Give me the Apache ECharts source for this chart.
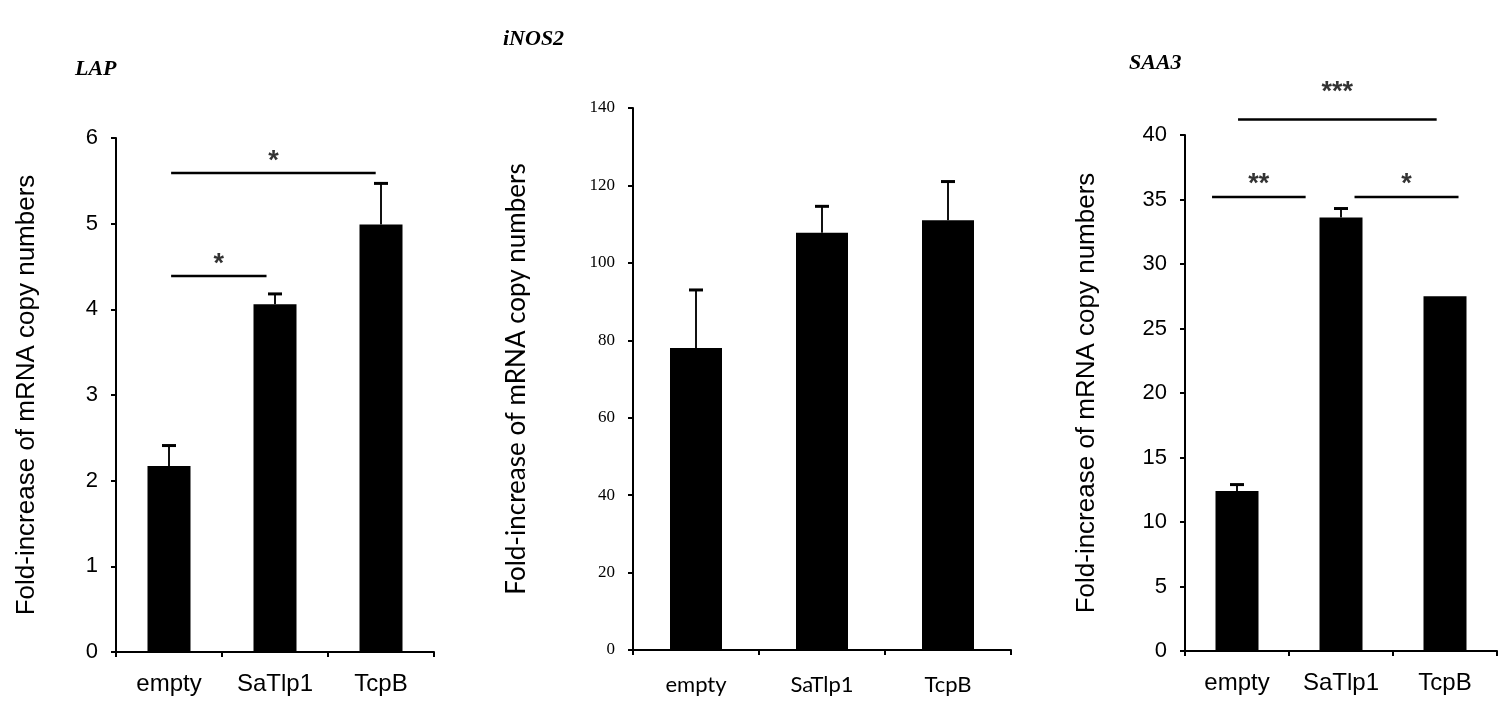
<!DOCTYPE html>
<html>
<head>
<meta charset="utf-8">
<script src="https://cdn.jsdelivr.net/npm/echarts@6/dist/echarts.min.js"></script>
<style>
  html, body { margin: 0; padding: 0; background: #fff; }
  #chart { width: 1500px; height: 709px; }
</style>
</head>
<body>
<div id="chart"></div>
<script>
// data
var categories = ['empty', 'SaTlp1', 'TcpB'];

var lapMean = [2.17, 4.06, 4.99];
var lapErr = [0.24, 0.12, 0.48];
var inosMean = [78, 107.8, 111];
var inosErr = [15, 6.8, 10];
var saaMean = [12.4, 33.6, 27.5];
var saaErr = [0.5, 0.7, 0];

var panelTitles = ['LAP', 'iNOS2', 'SAA3'];
var yName = 'Fold-increase of mRNA copy numbers';

// significance brackets: [from, to, y] on a -0.5..2.5 scale, stars: [x, y, text]
var lapBrackets = [[0.02, 0.92, 4.39], [0.02, 1.95, 5.59]];
var lapStars = [[0.47, 4.6, '*'], [0.985, 5.81, '*']];
var saaBrackets = [[-0.24, 0.66, 35.2], [1.13, 2.13, 35.2], [0.01, 1.92, 41.2]];
var saaStars = [[0.21, 36.7, '**'], [1.63, 36.7, '*'], [0.965, 43.8, '***']];

var sans = 'Liberation Sans';
var serif = 'Liberation Serif';
var calib = 'Lato';

var chart = echarts.init(document.getElementById('chart'));

function errData(mean, err) {
    return categories.map(function (c, i) { return [i, mean[i], err[i]]; });
}

function errSeries(idx, mean, err) {
    return {
        type: 'custom',
        xAxisIndex: idx, yAxisIndex: idx,
        data: errData(mean, err),
        z: 5,
        renderItem: function (params, api) {
            var e = api.value(2);
            if (!e) return;
            var i = api.value(0), m = api.value(1);
            var p0 = api.coord([i, m]);
            var p1 = api.coord([i, m + e]);
            var w = 7;
            return {
                type: 'group',
                children: [
                    { type: 'line', shape: { x1: p0[0], y1: p0[1], x2: p1[0], y2: p1[1] },
                      style: { stroke: '#111', lineWidth: 2 } },
                    { type: 'line', shape: { x1: p1[0] - w, y1: p1[1], x2: p1[0] + w, y2: p1[1] },
                      style: { stroke: '#000', lineWidth: 3 } }
                ]
            };
        }
    };
}

function bracketSeries(axisIdx, yIdx, list) {
    return list.map(function (b) {
        return {
            type: 'line',
            xAxisIndex: axisIdx, yAxisIndex: yIdx,
            data: [[b[0], b[2]], [b[1], b[2]]],
            symbol: 'none',
            clip: false,
            silent: true,
            lineStyle: { color: '#000', width: 2.5 }
        };
    });
}

function starSeries(axisIdx, yIdx, list) {
    return {
        type: 'scatter',
        xAxisIndex: axisIdx, yAxisIndex: yIdx,
        data: list,
        symbolSize: 0,
        clip: false,
        silent: true,
        label: {
            show: true, position: 'inside', color: '#000',
            fontFamily: sans, fontSize: 27, fontWeight: 'bold', offset: [0, 7],
            formatter: function (p) { return p.data[2]; }
        }
    };
}

function catAxis(idx, font, size, margin) {
    return {
        type: 'category', gridIndex: idx, data: categories,
        axisLine: { lineStyle: { color: '#000', width: 2 } },
        axisTick: { show: true, length: 5, lineStyle: { color: '#000', width: 2 } },
        axisLabel: { color: '#000', fontFamily: font, fontSize: size, margin: margin }
    };
}

function annoAxis(idx) {
    return { type: 'value', gridIndex: idx, min: -0.5, max: 2.5, show: false };
}

function valAxis(idx, max, step, font, size, nameFont, nameSize, gap) {
    return {
        type: 'value', gridIndex: idx, min: 0, max: max, interval: step,
        name: yName, nameLocation: 'middle', nameGap: gap, nameRotate: 90,
        nameTextStyle: { color: '#000', fontFamily: nameFont, fontSize: nameSize },
        axisLine: { show: true, onZero: false, lineStyle: { color: '#000', width: 2 } },
        axisTick: { show: true, length: 5, lineStyle: { color: '#000', width: 2 } },
        splitLine: { show: false },
        axisLabel: { color: '#000', fontFamily: font, fontSize: size, margin: 18 }
    };
}

function barSeries(idx, mean, w) {
    return {
        type: 'bar', xAxisIndex: idx, yAxisIndex: idx,
        data: mean, barWidth: w,
        itemStyle: { color: '#000' }
    };
}

var titleStyle = { color: '#000', fontFamily: serif, fontSize: 22, fontWeight: 'bold', fontStyle: 'italic' };

var option = {
    backgroundColor: '#fff',
    animation: false,
    title: [
        { text: panelTitles[0], left: 75, top: 58, textStyle: titleStyle, padding: 0 },
        { text: panelTitles[1], left: 503, top: 28, textStyle: titleStyle, padding: 0 },
        { text: panelTitles[2], left: 1129, top: 52, textStyle: titleStyle, padding: 0 }
    ],
    grid: [
        { left: 116, top: 138, width: 318, height: 514 },
        { left: 633, top: 108, width: 378, height: 542 },
        { left: 1185, top: 135, width: 312, height: 516 }
    ],
    xAxis: [
        catAxis(0, sans, 24, 20),
        catAxis(1, calib, 22, 24),
        catAxis(2, sans, 24, 20),
        annoAxis(0),
        annoAxis(2)
    ],
    yAxis: [
        valAxis(0, 6, 1, sans, 22, sans, 26, 76),
        valAxis(1, 140, 20, serif, 17, calib, 26, 103),
        valAxis(2, 40, 5, sans, 22, sans, 26, 85)
    ],
    series: [
        barSeries(0, lapMean, 43),
        barSeries(1, inosMean, 52),
        barSeries(2, saaMean, 43),
        errSeries(0, lapMean, lapErr),
        errSeries(1, inosMean, inosErr),
        errSeries(2, saaMean, saaErr),
        starSeries(3, 0, lapStars),
        starSeries(4, 2, saaStars)
    ].concat(bracketSeries(3, 0, lapBrackets), bracketSeries(4, 2, saaBrackets))
};

chart.setOption(option);
</script>
</body>
</html>
